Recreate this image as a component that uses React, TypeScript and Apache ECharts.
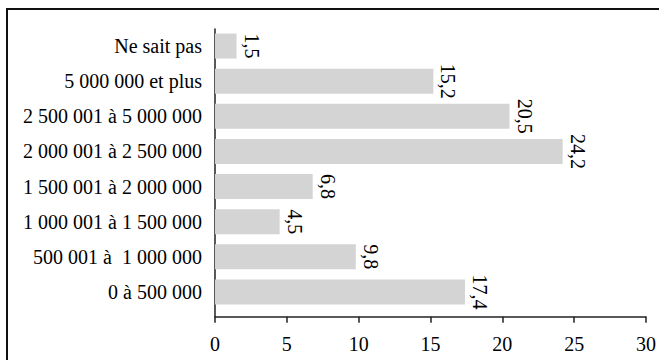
import React, { useEffect, useRef } from "react";
import * as echarts from "echarts";

const categories = [
  "0 à 500 000",
  "500 001 à  1 000 000",
  "1 000 001 à 1 500 000",
  "1 500 001 à 2 000 000",
  "2 000 001 à 2 500 000",
  "2 500 001 à 5 000 000",
  "5 000 000 et plus",
  "Ne sait pas",
];
const values = [17.4, 9.8, 4.5, 6.8, 24.2, 20.5, 15.2, 1.5];
const xMin = 0;
const xMax = 30;
const xStep = 5;

const FONT = "Times New Roman, Liberation Serif, DejaVu Serif, serif";

export default function App() {
  const ref = useRef<HTMLDivElement>(null);
  useEffect(() => {
    if (!ref.current) return;
    const chart = echarts.init(ref.current, null, { renderer: "svg" });
    chart.setOption({
      animation: false,
      backgroundColor: "#ffffff",
      textStyle: { fontFamily: FONT },
      graphic: [
        {
          type: "rect",
          shape: { x: 7, y: 9, width: 720, height: 420 },
          style: { fill: "none", stroke: "#111", lineWidth: 2 },
          silent: true,
        },
      ],
      grid: [
        { left: 215, right: 13, top: 28.5, bottom: 50.5 },
        { left: 215, right: 13, top: 29, bottom: 43.3 },
      ],
      xAxis: [
        {
          gridIndex: 0,
          type: "value",
          min: xMin,
          max: xMax,
          interval: xStep,
          show: false,
        },
        {
          gridIndex: 1,
          type: "value",
          min: xMin,
          max: xMax,
          interval: xStep,
          axisLine: { show: true, lineStyle: { color: "#222", width: 1.5 } },
          axisTick: { show: true, length: 6, lineStyle: { color: "#222", width: 1.5 } },
          axisLabel: {
            color: "#000",
            fontSize: 20,
            fontFamily: FONT,
            margin: 17,
          },
          splitLine: { show: false },
        },
      ],
      yAxis: [
        {
          gridIndex: 0,
          type: "category",
          data: categories,
          axisLine: { show: false },
          axisTick: { show: false },
          axisLabel: {
            color: "#000",
            fontSize: 20,
            fontFamily: FONT,
            margin: 13,
          },
        },
        {
          gridIndex: 1,
          type: "value",
          min: 0,
          max: 1,
          axisLine: { show: true, lineStyle: { color: "#222", width: 1.5 } },
          axisTick: { show: false },
          axisLabel: { show: false },
          splitLine: { show: false },
        },
      ],
      series: [
        {
          type: "bar",
          xAxisIndex: 0,
          yAxisIndex: 0,
          data: values,
          barWidth: 25,
          itemStyle: { color: "#d4d4d4" },
          label: {
            show: true,
            position: "right",
            distance: 5,
            rotate: -90,
            align: "center",
            verticalAlign: "bottom",
            color: "#000",
            fontSize: 20,
            fontFamily: FONT,
            formatter: (p: any) => String(p.value).replace(".", ","),
          },
        },
      ],
    });
    return () => chart.dispose();
  }, []);
  return (
    <div
      ref={ref}
      style={{ position: "fixed", left: 0, top: 0, width: 659, height: 360 }}
    />
  );
}
